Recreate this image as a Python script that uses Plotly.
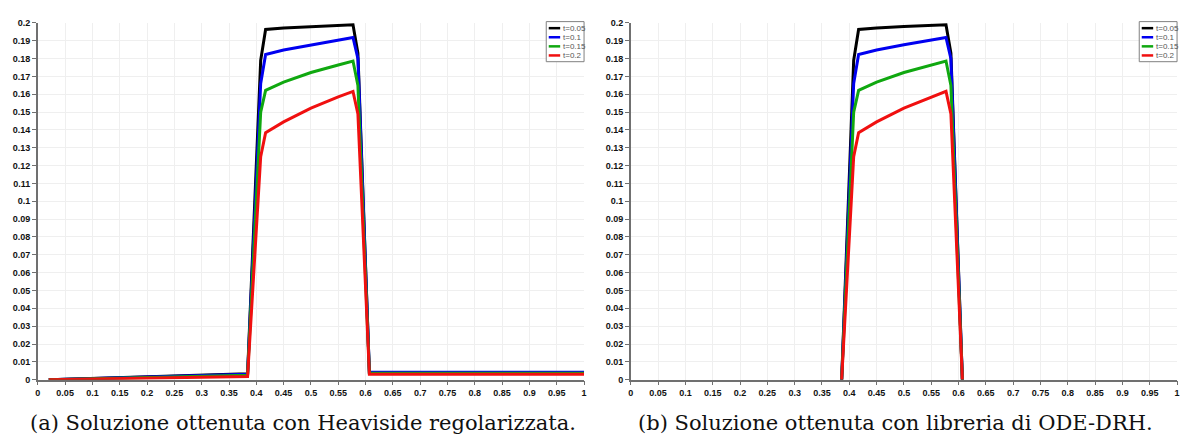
import plotly.graph_objects as go

# Time levels shown in both panels
TIMES = ["t=0.05", "t=0.1", "t=0.15", "t=0.2"]
COLORS = ["#000000", "#0000f0", "#10a810", "#f01010"]

# Shape of the pulse (shared by both solutions)
X_PULSE = [0.408, 0.417, 0.45, 0.50, 0.55, 0.577, 0.586]
PULSE_T005 = [0.179, 0.1963, 0.1972, 0.1980, 0.1986, 0.1989, 0.183]
PULSE_T010 = [0.166, 0.1823, 0.1848, 0.1877, 0.1904, 0.1918, 0.180]
PULSE_T015 = [0.150, 0.1622, 0.1668, 0.1722, 0.1764, 0.1786, 0.165]
PULSE_T020 = [0.125, 0.1384, 0.1445, 0.1522, 0.1585, 0.1616, 0.149]
PULSES = [PULSE_T005, PULSE_T010, PULSE_T015, PULSE_T020]

# Regularised Heaviside: small tails outside the pulse
X_TAIL_LEFT = [0.02, 0.384]
X_TAIL_RIGHT = [0.607, 1.0]
TAIL_LEFT = [0.0033, 0.0030, 0.0025, 0.0018]
TAIL_RIGHT = [0.0040, 0.0042, 0.0036, 0.0030]

# ODE-DRH library: sharp edges, zero outside
X_EDGE_LEFT = 0.386
X_EDGE_RIGHT = 0.607

X_TICKS = [i * 0.05 for i in range(21)]
X_LABELS = ["0", "0.05", "0.1", "0.15", "0.2", "0.25", "0.3", "0.35", "0.4", "0.45",
            "0.5", "0.55", "0.6", "0.65", "0.7", "0.75", "0.8", "0.85", "0.9", "0.95", "1"]
Y_TICKS = [i * 0.01 for i in range(21)]
Y_LABELS = ["0"] + [f"{round(i * 0.01, 2):g}" for i in range(1, 21)]

CAPTIONS = ["(a) Soluzione ottenuta con Heaviside regolarizzata.",
            "(b) Soluzione ottenuta con libreria di ODE-DRH."]
CAPTION_CENTERS = [302, 897]

W, H = 1190, 445
PANEL_X = [(35, 584), (631, 1180)]
Y_TOP, Y_BOT = 18.3, 383.3

fig = go.Figure()

for i, (pulse, color, name) in enumerate(zip(PULSES, COLORS, TIMES)):
    xa = [X_TAIL_LEFT[0], X_TAIL_LEFT[1]] + X_PULSE + [X_TAIL_RIGHT[0], X_TAIL_RIGHT[1]]
    ya = [0.0, TAIL_LEFT[i]] + pulse + [TAIL_RIGHT[i], TAIL_RIGHT[i]]
    fig.add_trace(go.Scatter(x=xa, y=ya, mode="lines", name=name,
                             line=dict(color=color, width=3), xaxis="x", yaxis="y",
                             showlegend=False))
    xb = [X_EDGE_LEFT] + X_PULSE + [X_EDGE_RIGHT]
    yb = [0.0] + pulse + [0.0]
    fig.add_trace(go.Scatter(x=xb, y=yb, mode="lines", name=name,
                             line=dict(color=color, width=3), xaxis="x2", yaxis="y2",
                             showlegend=False))

axis_common = dict(
    showline=True, linecolor="#707070", linewidth=1.5,
    ticks="outside", ticklen=4, tickwidth=1, tickcolor="#707070",
    showgrid=True, gridcolor="#efefef", gridwidth=1,
    zeroline=False,
    tickfont=dict(family="Liberation Sans, Arial, sans-serif", size=9, color="#111111", weight="bold"),
)

ydom = [(H - Y_BOT) / H, (H - Y_TOP) / H]
xdom1 = [PANEL_X[0][0] / W, PANEL_X[0][1] / W]
xdom2 = [PANEL_X[1][0] / W, PANEL_X[1][1] / W]

fig.update_layout(
    width=W, height=H,
    margin=dict(l=0, r=0, t=0, b=0),
    paper_bgcolor="white", plot_bgcolor="white",
    xaxis=dict(domain=xdom1, range=[0, 1], tickvals=X_TICKS, ticktext=X_LABELS,
               anchor="y", **axis_common),
    yaxis=dict(domain=ydom, range=[0, 0.2], tickvals=Y_TICKS, ticktext=Y_LABELS,
               anchor="x", **axis_common),
    xaxis2=dict(domain=xdom2, range=[0, 1], tickvals=X_TICKS, ticktext=X_LABELS,
                anchor="y2", **axis_common),
    yaxis2=dict(domain=ydom, range=[0, 0.2], tickvals=Y_TICKS, ticktext=Y_LABELS,
                anchor="x2", **axis_common),
    showlegend=False,
)

# Compact legend box in the top-right corner of each panel
shapes = []
annotations = []
for p, (x0, x1) in enumerate(PANEL_X):
    bx0, bx1 = x1 - 38, x1
    by0, by1 = 17, 58
    shapes.append(dict(type="rect", xref="paper", yref="paper",
                       x0=bx0 / W, x1=bx1 / W, y0=1 - by1 / H, y1=1 - by0 / H,
                       line=dict(color="#808080", width=1), fillcolor="white", layer="above"))
    for k, (name, color) in enumerate(zip(TIMES, COLORS)):
        yy = 23.7 + k * 9.3
        shapes.append(dict(type="line", xref="paper", yref="paper",
                           x0=(bx0 + 2.5) / W, x1=(bx0 + 14) / W,
                           y0=1 - yy / H, y1=1 - yy / H,
                           line=dict(color=color, width=2.5), layer="above"))
        annotations.append(dict(xref="paper", yref="paper", x=(bx0 + 15) / W, y=1 - yy / H,
                                text=name, showarrow=False, xanchor="left", yanchor="middle",
                                font=dict(family="Liberation Sans, Arial, sans-serif",
                                          size=8, color="#555555")))

# Sub-figure captions
for cap, cx in zip(CAPTIONS, CAPTION_CENTERS):
    annotations.append(dict(xref="paper", yref="paper", x=cx / W, y=1 - 428 / H,
                            text=cap, showarrow=False, xanchor="center", yanchor="middle",
                            font=dict(family="DejaVu Serif, Liberation Serif, serif",
                                      size=21, color="#111111")))

fig.update_layout(shapes=shapes, annotations=annotations)

fig.write_html("out.html")
